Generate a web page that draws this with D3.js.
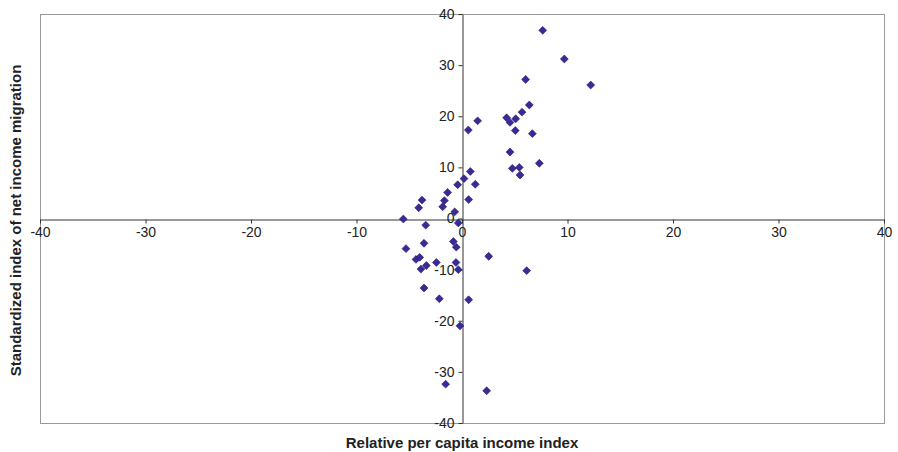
<!DOCTYPE html>
<html lang="en">
<head>
<meta charset="utf-8" />
<title>Income index vs net income migration</title>
<style>
  html,body{margin:0;background:#fff;}
  svg{display:block;font-family:"Liberation Sans",Arial,sans-serif;}
  .tick text{font-size:14px;fill:#222;}
</style>
</head>
<body>
<svg id="chart" width="898" height="452"></svg>
<script src="https://d3js.org/d3.v7.min.js"></script>
<script>
  // data
  const incomeIdx = [7.65, 9.7, 12.2, 6.03, 6.38, 5.69, 4.23, 4.55, 5.09, 5.05, 6.67, 4.55, 4.77, 5.43, 5.5, 7.33,
    1.48, 0.6, 0.79, 0.19, -0.41, 1.26, 0.63, -1.36, -1.67, -1.83, -3.79, -4.1, -0.69, -5.56,
    -3.44, -0.35, -5.31, -3.6, -0.82, -0.54, -4.36, -4.01, -3.89, -3.38, -2.43, -0.57, -0.35,
    2.53, 6.13, -3.6, -2.15, 0.63, -0.19, -1.55, 2.34];
  const migrationIdx = [36.8, 31.2, 26.1, 27.2, 22.2, 20.8, 19.7, 18.8, 19.5, 17.2, 16.6, 13.0, 9.8, 10.0, 8.5, 10.8,
    19.1, 17.3, 9.2, 7.8, 6.6, 6.7, 3.7, 5.1, 3.5, 2.3, 3.6, 2.1, 1.3, -0.1,
    -1.3, -0.87, -5.9, -4.85, -4.5, -5.6, -8.0, -7.6, -9.9, -9.2, -8.6, -8.6, -10.0,
    -7.4, -10.2, -13.6, -15.7, -15.9, -21.0, -32.4, -33.7];
  const xTicks = [-40, -30, -20, -10, 0, 10, 20, 30, 40];
  const yTicks = [-40, -30, -20, -10, 0, 10, 20, 30, 40];

  const svg = d3.select('#chart');
  const L = 40, R = 884, T = 14, B = 423;

  const x = d3.scaleLinear().domain([-40, 40]).range([L, R]);
  const y = d3.scaleLinear().domain([-40, 40]).range([B, T]);
  const plain = d => String(d);   // hyphen minus, like the original

  // plot frame
  svg.append('rect').attr('x', L + .5).attr('y', T + .5).attr('width', R - L).attr('height', B - T)
    .attr('fill', 'none').attr('stroke', '#9a9a9a');

  // x axis through y=0
  const gx = svg.append('g').attr('transform', `translate(0,${Math.round(y(0)) + .5})`)
    .call(d3.axisBottom(x).tickValues(xTicks).tickFormat(plain).tickSize(4).tickPadding(4).tickSizeOuter(0));
  gx.select('.domain').attr('stroke', '#333');
  gx.selectAll('.tick line').attr('stroke', '#333');

  // y axis through x=0
  const gy = svg.append('g').attr('transform', `translate(${Math.round(x(0)) + .5},0)`)
    .call(d3.axisLeft(y).tickValues(yTicks).tickFormat(plain).tickSize(4).tickPadding(4).tickSizeOuter(0));
  gy.select('.domain').attr('stroke', '#333');
  gy.selectAll('.tick line').attr('stroke', '#333');

  // points
  const diamond = d3.symbol().type(d3.symbolDiamond2).size(40);
  svg.append('g').selectAll('path').data(incomeIdx.map((v, i) => [v, migrationIdx[i]]))
    .join('path')
    .attr('transform', d => `translate(${x(d[0])},${y(d[1])})`)
    .attr('d', diamond)
    .attr('fill', '#392b95').attr('stroke', '#261a72').attr('stroke-width', .6);

  // titles
  svg.append('text').attr('x', (L + R) / 2).attr('y', 448).attr('text-anchor', 'middle')
    .style('font-size', '15px').style('font-weight', 'bold').attr('fill', '#222')
    .text('Relative per capita income index');
  svg.append('text').attr('transform', `translate(21,${(T + B) / 2 + 2}) rotate(-90)`)
    .attr('text-anchor', 'middle')
    .style('font-size', '15px').style('font-weight', 'bold').attr('fill', '#222')
    .text('Standardized index of net income migration');
</script>
</body>
</html>
